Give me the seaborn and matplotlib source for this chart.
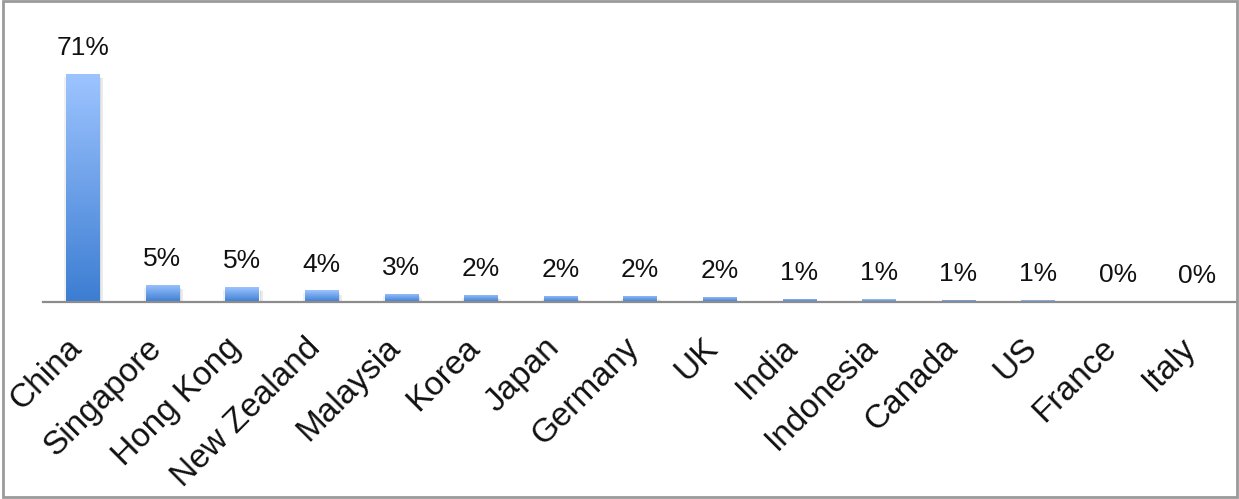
import numpy as np
import pandas as pd
import matplotlib
matplotlib.use("Agg")
import matplotlib.pyplot as plt
import matplotlib.patheffects as pe
from matplotlib.colors import LinearSegmentedColormap
from matplotlib.patches import Rectangle
import seaborn as sns

countries = ["China", "Singapore", "Hong Kong", "New Zealand", "Malaysia", "Korea",
             "Japan", "Germany", "UK", "India", "Indonesia", "Canada", "US",
             "France", "Italy"]
share_pct = [71.0, 5.3, 4.6, 3.6, 2.6, 2.2, 1.9, 1.9, 1.6, 1.0, 0.9, 0.7, 0.6, 0.3, 0.1]

df = pd.DataFrame({"country": countries, "share": share_pct})

sns.set_theme(style="white")
plt.rcParams["font.family"] = ["Liberation Sans", "DejaVu Sans"]

fig = plt.figure(figsize=(12.39, 4.99), dpi=100)
W, H = 1239, 499
ax = fig.add_axes([43 / W, (H - 302) / H, (1237 - 43) / W, 302 / H])

bar_bottom = "#3c7dd2"
bar_top = "#9dc4ff"
sns.barplot(data=df, x="country", y="share", color=bar_bottom, width=0.415,
            saturation=1, ax=ax, zorder=2)

ax.set_ylim(0, 71 * 302 / 228)
ax.set_xlim(-0.5, len(countries) - 0.5)

# vertical gradient fill, soft drop shadow on each bar
cmap = LinearSegmentedColormap.from_list("barfade", [bar_bottom, bar_top])
grad = np.linspace(0, 1, 256).reshape(-1, 1)
for patch in ax.patches:
    x0, y0 = patch.get_x(), patch.get_y()
    w, h = patch.get_width(), patch.get_height()
    patch.set_path_effects([
        pe.SimplePatchShadow(offset=(3, -3), shadow_rgbFace="#000000", alpha=0.08),
        pe.SimplePatchShadow(offset=(1.5, -2), shadow_rgbFace="#000000", alpha=0.10),
        pe.SimplePatchShadow(offset=(-1.5, -2), shadow_rgbFace="#000000", alpha=0.06),
        pe.Normal(),
    ])
    if h <= 0:
        continue
    im = ax.imshow(grad, extent=(x0, x0 + w, y0, y0 + h), origin="lower",
                   cmap=cmap, aspect="auto", zorder=3, interpolation="bilinear")
    im.set_clip_path(patch)

ax.bar_label(ax.containers[0], labels=[f"{round(v):.0f}%" for v in share_pct],
             padding=10, fontsize=19, color="#111111")

ax.set_xlabel("")
ax.set_ylabel("")
ax.set_yticks([])
for side in ["left", "right", "top"]:
    ax.spines[side].set_visible(False)
ax.spines["bottom"].set_color("#8c8c8c")
ax.spines["bottom"].set_linewidth(1.6)
ax.spines["bottom"].set_zorder(4)
ax.tick_params(axis="x", length=0, pad=34)
ax.set_xticks(range(len(countries)))
ax.set_xticklabels(countries, rotation=45, ha="right", va="baseline",
                   rotation_mode="anchor", fontsize=24, color="#111111")

# outer frame
fig.patches.append(Rectangle((3 / W, 2 / H), (1237 - 3) / W, (H - 2.5) / H,
                             transform=fig.transFigure, fill=False,
                             edgecolor="#9a9a9a", linewidth=2))

fig.savefig("out.png", dpi=100)
